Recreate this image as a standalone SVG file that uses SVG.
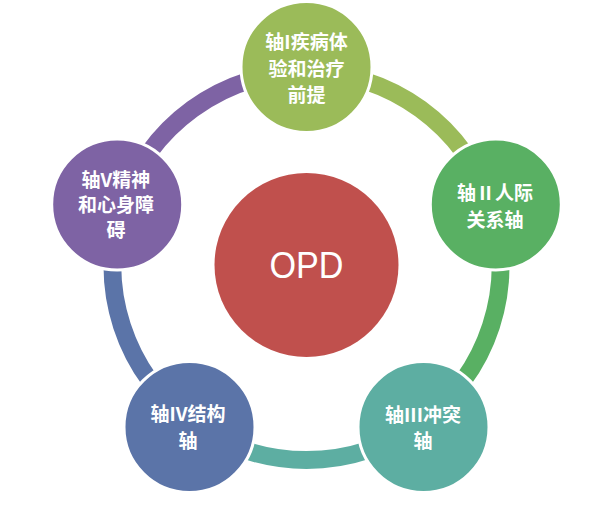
<svg xmlns="http://www.w3.org/2000/svg" width="589" height="508" viewBox="0 0 589 508">
<style>
.arc{fill:none;stroke-width:18;stroke-linecap:butt}
.node{stroke:#fff;stroke-width:3}
.t{font-family:"Noto Sans CJK SC","Noto Sans",sans-serif;font-weight:bold;font-size:19px;fill:#fff;text-anchor:middle;dominant-baseline:central}
.c{font-family:"Liberation Sans",Arial,sans-serif;font-size:37px;fill:#fff;text-anchor:middle}
</style>
<rect width="589" height="508" fill="#fff"/>
<g id="connectors">
<path class="arc" stroke="#9BBB59" d="M306.5 72 A194 194 0 0 1 491.0 206.05"/>
<path class="arc" stroke="#59B063" d="M491.0 206.05 A194 194 0 0 1 420.53 422.95"/>
<path class="arc" stroke="#5DAEA2" d="M420.53 422.95 A194 194 0 0 1 192.47 422.95"/>
<path class="arc" stroke="#5B74A8" d="M192.47 422.95 A194 194 0 0 1 122.0 206.05"/>
<path class="arc" stroke="#7E63A4" d="M122.0 206.05 A194 194 0 0 1 306.5 72"/>
</g>
<g id="center">
<circle cx="306.5" cy="265" r="92" fill="#C0504D"/>
<text class="c" x="306.5" y="278" textLength="74" lengthAdjust="spacingAndGlyphs">OPD</text>
</g>
<g id="axis1">
<circle class="node" cx="306.5" cy="67" r="65.5" fill="#9BBB59"/>
<text class="t" x="306.5" y="40">轴I疾病体</text>
<text class="t" x="306.5" y="67">验和治疗</text>
<text class="t" x="306.5" y="93">前提</text>
</g>
<g id="axis2">
<circle class="node" cx="495.8" cy="204.5" r="65.5" fill="#59B063"/>
<text class="t" x="495" y="191">轴Ⅱ人际</text>
<text class="t" x="495" y="218">关系轴</text>
</g>
<g id="axis3">
<circle class="node" cx="423.5" cy="427" r="65.5" fill="#5DAEA2"/>
<text class="t" x="423" y="413">轴III冲突</text>
<text class="t" x="423" y="439">轴</text>
</g>
<g id="axis4">
<circle class="node" cx="189.5" cy="427" r="65.5" fill="#5B74A8"/>
<text class="t" x="188" y="412">轴IV结构</text>
<text class="t" x="188" y="439">轴</text>
</g>
<g id="axis5">
<circle class="node" cx="117.2" cy="204.5" r="65.5" fill="#7E63A4"/>
<text class="t" x="116" y="178">轴V精神</text>
<text class="t" x="116" y="203">和心身障</text>
<text class="t" x="116" y="228">碍</text>
</g>
</svg>
